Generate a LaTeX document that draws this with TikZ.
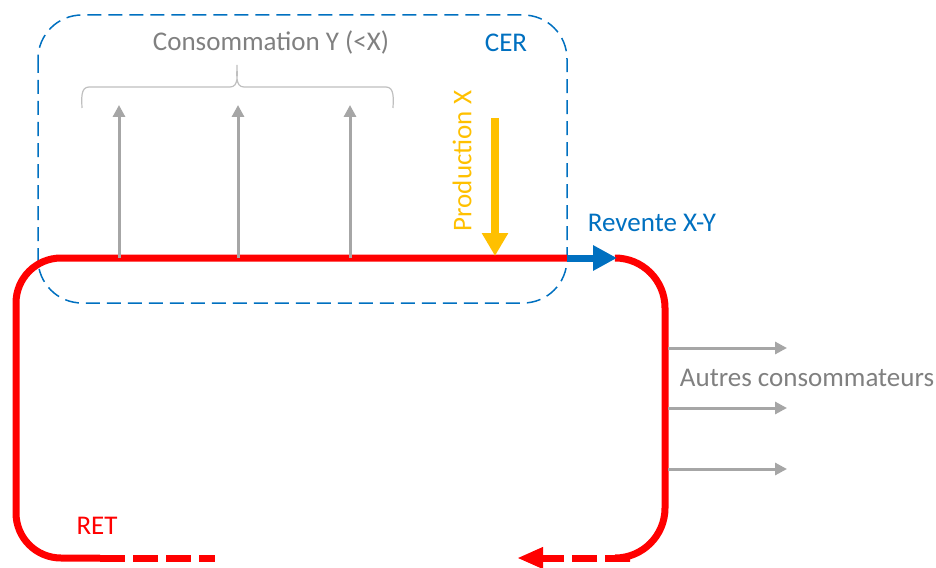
\documentclass[tikz,border=0pt]{standalone}
\usepackage{fontspec}
\setmainfont{Carlito}
\usetikzlibrary{arrows.meta, positioning, calc}
\definecolor{retred}{RGB}{255,0,0}
\definecolor{cerblue}{RGB}{0,112,192}
\definecolor{prodyellow}{RGB}{255,192,0}
\definecolor{consgray}{RGB}{166,166,166}
\definecolor{txtgray}{RGB}{128,128,128}
\definecolor{bracegray}{RGB}{191,191,191}

\begin{document}
\begin{tikzpicture}[x=1pt, y=-1pt,
    retline/.style={line width=7pt, retred, line cap=butt},
    retdash/.style={retline, dash pattern=on 25pt off 8pt},
    consarrow/.style={line width=3pt, consgray, -{Triangle[length=12pt, width=12pt]}},
    lbl/.style={font=\fontsize{27}{31}\selectfont, inner sep=0pt}]
    \useasboundingbox (0,0) rectangle (936,567);

    % --- CER (dashed box) ---
    \draw[cerblue, line width=1.5pt, dash pattern=on 14pt off 7pt, rounded corners=44pt] (38,15) rectangle (567,303);
    \node[lbl, cerblue] (cer) at (506,43) {CER};

    % --- RET loop ---
    \coordinate (blueA) at (567,258);
    \coordinate (blueB) at (617,258);
    \coordinate (leftEnd) at (100,558);
    \coordinate (leftTip) at (215,558);
    \coordinate (rightEnd) at (630,558);
    \coordinate (rightTip) at (517,558);
    \draw[retline, rounded corners=45pt] (blueA) -- (16,258) -- (16,558) -- (leftEnd);
    \draw[retdash] (leftEnd) -- (leftTip);
    \draw[retline, rounded corners=50pt] (blueB) -- (665,258) -- (665,558) -- (rightEnd);
    \draw[retdash, -{Triangle[length=26pt, width=20pt]}] (rightEnd) -- (rightTip);
    \node[lbl, retred] (ret) at (97,526) {RET};

    % --- Revente ---
    \draw[line width=7pt, cerblue, -{Triangle[length=24pt, width=24pt]}] (blueA) -- (blueB);
    \node[lbl, cerblue] (revente) at (652,223) {Revente X-Y};

    % --- Production ---
    \coordinate (prodTop) at (495,118);
    \coordinate (prodBot) at (495,256);
    \draw[line width=8pt, prodyellow, -{Triangle[length=23pt, width=25pt]}] (prodTop) -- (prodBot);
    \node[lbl, prodyellow, rotate=90] (prod) at (462,161) {Production X};

    % --- Consommation Y ---
    \foreach \i/\x in {1/119, 2/238, 3/350} {
        \coordinate (c\i) at (\x,258);
        \coordinate (ct\i) at (\x,105);
        \draw[consarrow] (c\i) -- (ct\i);
    }
    % accolade
    \coordinate (braceL) at (82,108);
    \coordinate (braceTip) at (237,65);
    \coordinate (braceR) at (393,108);
    \draw[bracegray, line width=1.2pt] (braceL) to[out=92, in=180] (89,87) -- (230,87)
        to[out=0, in=270] (braceTip) to[out=270, in=180] (244,87) -- (386,87) to[out=0, in=88] (braceR);
    \node[lbl, txtgray] (cons) at (271,42) {Consommation Y (<X)};

    % --- Autres consommateurs ---
    \foreach \i/\y in {1/348, 2/408, 3/469} {
        \coordinate (a\i) at (668,\y);
        \coordinate (at\i) at (787,\y);
        \draw[consarrow] (a\i) -- (at\i);
    }
    \node[lbl, txtgray] (autres) at (807,378) {Autres consommateurs};

\end{tikzpicture}
\end{document}
